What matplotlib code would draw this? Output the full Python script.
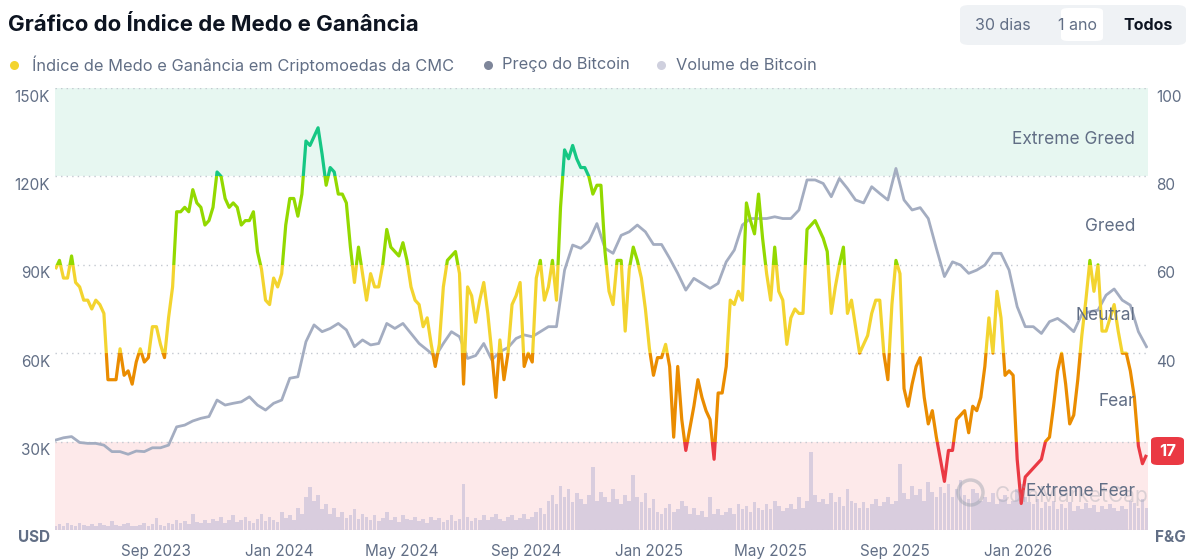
import matplotlib.pyplot as plt
import matplotlib.dates as mdates
import matplotlib.transforms as mtransforms
from matplotlib.patches import Rectangle, FancyBboxPatch
from matplotlib.lines import Line2D
import numpy as np
import pandas as pd

plt.rcParams['font.family'] = ['Inter', 'DejaVu Sans']

# --- data ---
# Fear & Greed index, one value every 4 days from 2023-05-24
fg_start = '2023-05-24'
fg_values = [
    59, 61, 57, 57, 62, 56, 55, 52, 52, 50,
    52, 51, 49, 34, 34, 34, 41, 35, 36, 33,
    38, 41, 38, 39, 46, 46, 42, 39, 48, 55,
    72, 72, 73, 72, 77, 74, 73, 69, 70, 73,
    81, 80, 75, 73, 74, 73, 69, 70, 70, 72,
    63, 59, 52, 51, 57, 55, 58, 69, 75, 75,
    71, 76, 88, 87, 89, 91, 85, 78, 82, 81,
    76, 76, 74, 64, 56, 64, 58, 52, 58, 55,
    55, 60, 68, 64, 63, 62, 65, 61, 55, 52,
    51, 46, 48, 42, 37, 42, 55, 61, 62, 63,
    58, 33, 55, 53, 47, 52, 56, 49, 40, 30,
    43, 34, 40, 51, 53, 56, 37, 40, 38, 57,
    61, 52, 55, 61, 52, 73, 86, 84, 87, 84,
    82, 82, 80, 76, 78, 78, 63, 54, 51, 61,
    61, 45, 59, 64, 61, 57, 50, 41, 35, 39,
    39, 42, 37, 21, 37, 25, 18, 23, 28, 34,
    30, 27, 25, 16, 31, 31, 37, 52, 51, 54,
    52, 74, 70, 67, 76, 66, 58, 52, 64, 54,
    52, 42, 48, 50, 49, 49, 68, 69, 70, 68,
    66, 63, 49, 55, 60, 64, 49, 52, 46, 40,
    42, 44, 49, 52, 52, 40, 34, 51, 61, 58,
    32, 28, 33, 37, 39, 30, 24, 27, 21, 16,
    11, 18, 18, 25, 26, 27, 22, 28, 27, 30,
    37, 48, 40, 54, 48, 35, 36, 35, 16, 6,
    12, 13, 14, 15, 16, 20, 21, 28, 36, 40,
    33, 24, 26, 34, 44, 52, 61, 54, 60, 45,
    45, 48, 51, 45, 40, 40, 36, 30, 19, 15,
    17,
]

# Bitcoin volume (billion USD), same 4-day steps
volume_b = [
    6, 8, 5, 9, 7, 6, 10, 7, 5, 8,
    6, 9, 7, 5, 12, 7, 6, 8, 10, 6,
    5, 7, 9, 6, 8, 16, 7, 6, 9, 8,
    14, 10, 12, 8, 22, 11, 9, 13, 10, 15,
    12, 18, 10, 14, 20, 11, 13, 17, 12, 10,
    15, 22, 12, 18, 14, 11, 24, 16, 20, 13,
    30, 22, 45, 58, 40, 48, 28, 35, 22, 30,
    18, 25, 16, 20, 28, 15, 22, 18, 14, 20,
    12, 16, 24, 14, 18, 11, 20, 15, 13, 17,
    12, 15, 10, 18, 13, 16, 11, 14, 20, 12,
    15, 62, 18, 12, 16, 14, 20, 13, 17, 22,
    15, 12, 18, 20, 14, 16, 22, 15, 18, 25,
    30, 22, 40, 48, 35, 60, 45, 55, 38, 50,
    42, 35, 48, 85, 40, 52, 45, 38, 55, 42,
    35, 48, 40, 75, 45, 38, 50, 30, 42, 25,
    22, 30, 35, 25, 28, 40, 32, 22, 30, 20,
    26, 18, 45, 22, 28, 20, 25, 30, 22, 35,
    28, 32, 25, 38, 30, 27, 35, 28, 40, 32,
    26, 30, 35, 28, 45, 30, 40, 106, 48, 38,
    42, 35, 50, 38, 45, 32, 55, 40, 36, 30,
    38, 30, 35, 42, 32, 38, 45, 35, 40, 90,
    50, 42, 60, 48, 55, 40, 65, 52, 45, 58,
    50, 62, 45, 55, 68, 48, 42, 55, 50, 40,
    45, 38, 50, 35, 42, 48, 35, 40, 55, 62,
    45, 38, 35, 42, 30, 38, 32, 40, 28, 35,
    30, 38, 26, 33, 28, 36, 30, 34, 25, 32,
    28, 35, 30, 26, 33, 28, 40, 36, 30, 42,
    30,
]

# Bitcoin price (thousand USD), one value every 8 days from 2023-05-24
price_k = [
    30.5, 31.3, 31.7, 29.7, 29.4, 29.4, 28.8, 26.6, 26.6, 25.7,
    26.8, 26.6, 27.9, 27.9, 28.8, 35.0, 35.6, 37.0, 37.9, 38.5,
    44.1, 42.4, 43.0, 43.5, 45.2, 42.4, 40.7, 43.0, 44.1, 51.5,
    52.0, 63.9, 69.6, 67.3, 68.4, 70.1, 67.9, 62.2, 64.5, 62.8,
    63.3, 70.1, 68.4, 70.1, 66.7, 63.3, 61.1, 58.8, 63.3, 67.3,
    65.6, 58.2, 59.2, 63.3, 57.7, 60.5, 61.9, 65.0, 66.2, 65.6,
    67.3, 69.0, 69.0, 88.2, 96.7, 95.6, 98.0, 104.0, 95.6, 93.9,
    100.0, 101.2, 103.5, 101.2, 96.9, 96.9, 92.2, 87.1, 81.4, 85.4,
    83.7, 82.0, 83.7, 91.0, 95.0, 103.5, 105.7, 105.7, 105.7, 106.3,
    105.7, 105.7, 108.6, 118.8, 118.8, 117.6, 113.1, 119.3, 115.9, 112.0,
    111.0, 116.5, 114.2, 112.0, 122.7, 112.0, 108.6, 109.4, 105.7, 95.6,
    86.0, 91.0, 89.9, 87.1, 88.2, 89.9, 93.9, 93.9, 88.2, 75.8,
    69.0, 69.0, 66.7, 70.7, 71.8, 69.8, 67.3, 73.2, 74.1, 74.6,
    79.7, 81.8, 78.0, 76.3, 67.3, 62.2,
]

usd_ticks = [30000, 60000, 90000, 120000, 150000]
usd_labels = ['30K', '60K', '90K', '120K', '150K']
fg_ticks = [40, 60, 80, 100]   # 20 sits under the badge
date_ticks = ['2023-09-01', '2024-01-01', '2024-05-01', '2024-09-01',
              '2025-01-01', '2025-05-01', '2025-09-01', '2026-01-01']
zones = [('Extreme Greed', 88.3), ('Greed', 68.7), ('Neutral', 48.5),
         ('Fear', 29), ('Extreme Fear', 8.7)]
bands = [(0, 20, '#ea3943'), (20, 40, '#ea8c00'), (40, 60, '#f3d42f'),
         (60, 80, '#93d900'), (80, 100, '#16c784')]

GREY = '#616e85'
DARK = '#0d1421'
W, H = 1192, 560

fg_dates = pd.date_range(fg_start, periods=len(fg_values), freq='4D')
price_dates = pd.date_range(fg_start, periods=len(price_k), freq='8D')

fig = plt.figure(figsize=(W / 100, H / 100), dpi=100)
ax = fig.add_axes([55 / W, 30 / H, 1093 / W, 442 / H])

xmin = mdates.date2num(pd.Timestamp(fg_start)) - 0.4
xmax = mdates.date2num(pd.Timestamp('2026-05-09')) + 0.5
ax.set_xlim(xmin, xmax)
ax.set_ylim(0, 150000)

# background zones + dotted grid
ax.axhspan(120000, 150000, color='#e7f7f1', lw=0, zorder=0)
ax.axhspan(0, 30000, color='#fde9ea', lw=0, zorder=0)
for v in range(0, 150001, 30000):
    ax.axhline(v, color='#c3c8d0', lw=1, ls=(0, (1, 3)), zorder=1)

for s in ax.spines.values():
    s.set_visible(False)
ax.set_yticks([])
ax.set_xticks(mdates.date2num(pd.to_datetime(date_ticks)))
ax.xaxis.set_major_formatter(mdates.DateFormatter('%b %Y'))
ax.tick_params(axis='x', length=0, pad=10, labelsize=11, labelcolor=GREY)

for v, lab in zip(usd_ticks, usd_labels):
    ax.annotate(lab, xy=(0, v), xycoords=('axes fraction', 'data'),
                xytext=(-5, -9), textcoords='offset pixels',
                ha='right', va='center', fontsize=11, color=GREY)
for v in fg_ticks:
    ax.annotate(str(v), xy=(1, v * 1500), xycoords=('axes fraction', 'data'),
                xytext=(8, -9), textcoords='offset pixels',
                ha='left', va='center', fontsize=11, color=GREY)

# volume bars
ax_vol = ax.twinx()
ax_vol.bar(fg_dates, volume_b, width=3.6, color='#d3c9dc', alpha=0.85, lw=0)
ax_vol.set_ylim(0, 600)
ax_vol.axis('off')

# price line
ax_p = ax.twinx()
ax_p.plot(price_dates, np.array(price_k) * 1000, color='#a4adc1', lw=2.0,
          solid_joinstyle='round')
ax_p.set_ylim(0, 150000)
ax_p.axis('off')

# fear & greed line, coloured by zone
ax_fg = ax.twinx()
ax_fg.set_ylim(0, 100)
ax_fg.axis('off')
trans = mtransforms.blended_transform_factory(ax_fg.transAxes, ax_fg.transData)
for lo, hi, col in bands:
    ln, = ax_fg.plot(fg_dates, fg_values, color=col, lw=2.3,
                     solid_joinstyle='round', solid_capstyle='butt')
    y0 = lo if lo > 0 else -10
    y1 = hi if hi < 100 else 110
    ln.set_clip_path(Rectangle((0, y0), 1, y1 - y0, transform=trans))

# watermark
ax_fg.text(0.93, 7.8, 'CoinMarketCap', transform=trans, ha='center', va='center',
           fontsize=15, color='#9aa1ad', alpha=0.35, zorder=2)
fig.add_artist(Line2D([970 / W], [1 - 492 / H], marker='o', ms=18, mfc='none',
                      mec='#9aa1ad', mew=2.5, alpha=0.45, transform=fig.transFigure))

for name, v in zones:
    ax_fg.text(1080 / 1093, v, name, transform=trans, ha='right', va='center',
               fontsize=12.5, color=GREY, zorder=5)

# current value badge
fig.patches.append(FancyBboxPatch((1151 / W, 1 - 465 / H), 33 / W, 28 / H,
                                  boxstyle='round,pad=0,rounding_size=0.006',
                                  transform=fig.transFigure, fc='#ea3943', ec='none'))
fig.text(1167.5 / W, 1 - 451 / H, str(fg_values[-1]), ha='center', va='center',
         fontsize=12, fontweight='bold', color='white')

fig.text(50 / W, 1 - 538 / H, 'USD', ha='right', va='center', fontsize=11,
         fontweight='bold', color=GREY)
fig.text(1155 / W, 1 - 538 / H, 'F&G', ha='left', va='center', fontsize=11,
         fontweight='bold', color=GREY)

# header
fig.text(8 / W, 1 - 25 / H, 'Gráfico do Índice de Medo e Ganância', ha='left',
         va='center', fontsize=16, fontweight='bold', color=DARK)

legend = [(14, 32, '#f3d42f', 'Índice de Medo e Ganância em Criptomoedas da CMC'),
          (488, 502, '#7e869a', 'Preço do Bitcoin'),
          (661, 676, '#cfd0de', 'Volume de Bitcoin')]
for dx, tx, col, lab in legend:
    fig.add_artist(Line2D([dx / W], [1 - 65 / H], marker='o', ms=6.5, color=col,
                          mec='none', transform=fig.transFigure))
    fig.text(tx / W, 1 - 65 / H, lab, ha='left', va='center', fontsize=11.8, color=GREY)

fig.patches.append(FancyBboxPatch((960 / W, 1 - 45 / H), 226 / W, 40 / H,
                                  boxstyle='round,pad=0,rounding_size=0.008',
                                  transform=fig.transFigure, fc='#eff2f5', ec='none'))
fig.patches.append(FancyBboxPatch((1061 / W, 1 - 41 / H), 42 / W, 33 / H,
                                  boxstyle='round,pad=0,rounding_size=0.006',
                                  transform=fig.transFigure, fc='white', ec='none'))
fig.text(1003 / W, 1 - 25 / H, '30 dias', ha='center', va='center', fontsize=11.5, color=GREY)
fig.text(1078 / W, 1 - 25 / H, '1 ano', ha='center', va='center', fontsize=11.5, color=GREY)
fig.text(1148 / W, 1 - 25 / H, 'Todos', ha='center', va='center', fontsize=11.5,
         fontweight='bold', color=DARK)

fig.savefig('out.png', dpi=100)
